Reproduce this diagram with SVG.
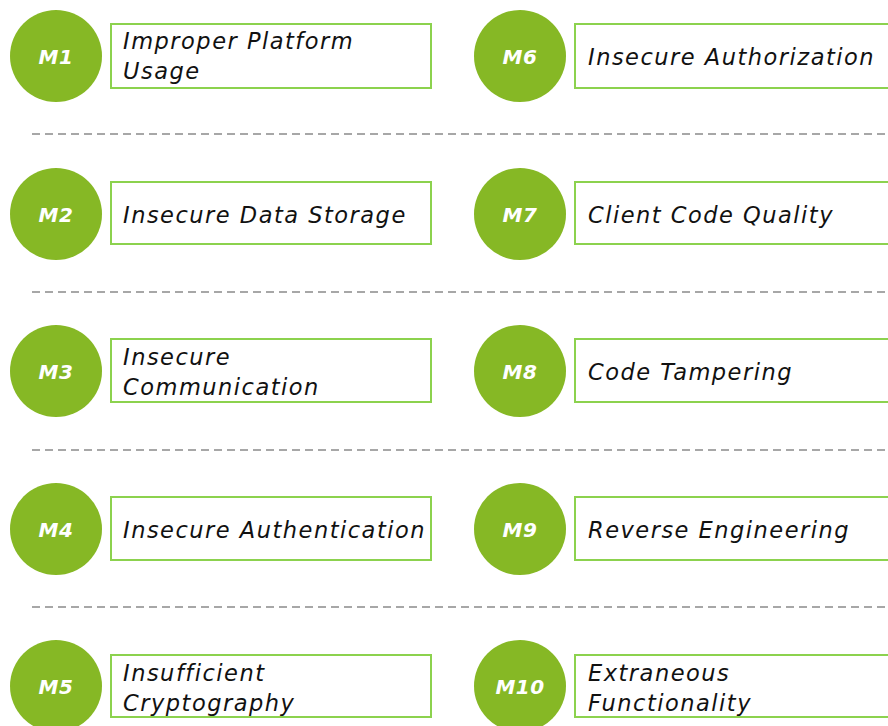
<svg xmlns="http://www.w3.org/2000/svg" width="888" height="726" viewBox="0 0 888 726">
<style>
.c{fill:#86b825}
.b{fill:#fff;stroke:#8cd24e;stroke-width:2}
.m{font-family:"DejaVu Sans",Verdana,sans-serif;font-weight:bold;font-style:italic;font-size:20px;letter-spacing:0.5px;fill:#fff;text-anchor:middle}
.t{font-family:"DejaVu Sans",Verdana,sans-serif;font-style:oblique;font-size:22.5px;letter-spacing:1.5px;fill:#111}
.d{stroke:#8a8a8a;stroke-width:1.5;stroke-dasharray:8 5;fill:none}
</style>
<rect width="888" height="726" fill="#fff"/>
<g id="separators">
<line class="d" x1="32" y1="134" x2="888" y2="134"/>
<line class="d" x1="32" y1="292" x2="888" y2="292"/>
<line class="d" x1="32" y1="450" x2="888" y2="450"/>
<line class="d" x1="32" y1="607" x2="888" y2="607"/>
</g>
<g id="M1"><circle class="c" cx="56" cy="56" r="46"/><text class="m" x="56" y="64">M1</text><rect class="b" x="111" y="24" width="320" height="64"/><text class="t" x="123" y="49">Improper Platform</text><text class="t" x="123" y="79">Usage</text></g>
<g id="M2"><circle class="c" cx="56" cy="214" r="46"/><text class="m" x="56" y="222">M2</text><rect class="b" x="111" y="182" width="320" height="62"/><text class="t" x="123" y="223">Insecure Data Storage</text></g>
<g id="M3"><circle class="c" cx="56" cy="371" r="46"/><text class="m" x="56" y="379">M3</text><rect class="b" x="111" y="339" width="320" height="63"/><text class="t" x="123" y="365">Insecure</text><text class="t" x="123" y="395">Communication</text></g>
<g id="M4"><circle class="c" cx="56" cy="529" r="46"/><text class="m" x="56" y="537">M4</text><rect class="b" x="111" y="497" width="320" height="63"/><text class="t" x="123" y="538">Insecure Authentication</text></g>
<g id="M5"><circle class="c" cx="56" cy="686" r="46"/><text class="m" x="56" y="694">M5</text><rect class="b" x="111" y="655" width="320" height="62"/><text class="t" x="123" y="681">Insufficient</text><text class="t" x="123" y="711">Cryptography</text></g>
<g id="M6"><circle class="c" cx="520" cy="56" r="46"/><text class="m" x="520" y="64">M6</text><rect class="b" x="575" y="24" width="320" height="64"/><text class="t" x="588" y="65">Insecure Authorization</text></g>
<g id="M7"><circle class="c" cx="520" cy="214" r="46"/><text class="m" x="520" y="222">M7</text><rect class="b" x="575" y="182" width="320" height="62"/><text class="t" x="588" y="223">Client Code Quality</text></g>
<g id="M8"><circle class="c" cx="520" cy="371" r="46"/><text class="m" x="520" y="379">M8</text><rect class="b" x="575" y="339" width="320" height="63"/><text class="t" x="588" y="380">Code Tampering</text></g>
<g id="M9"><circle class="c" cx="520" cy="529" r="46"/><text class="m" x="520" y="537">M9</text><rect class="b" x="575" y="497" width="320" height="63"/><text class="t" x="588" y="538">Reverse Engineering</text></g>
<g id="M10"><circle class="c" cx="520" cy="686" r="46"/><text class="m" x="520" y="694">M10</text><rect class="b" x="575" y="655" width="320" height="62"/><text class="t" x="588" y="681">Extraneous</text><text class="t" x="588" y="711">Functionality</text></g>
</svg>
